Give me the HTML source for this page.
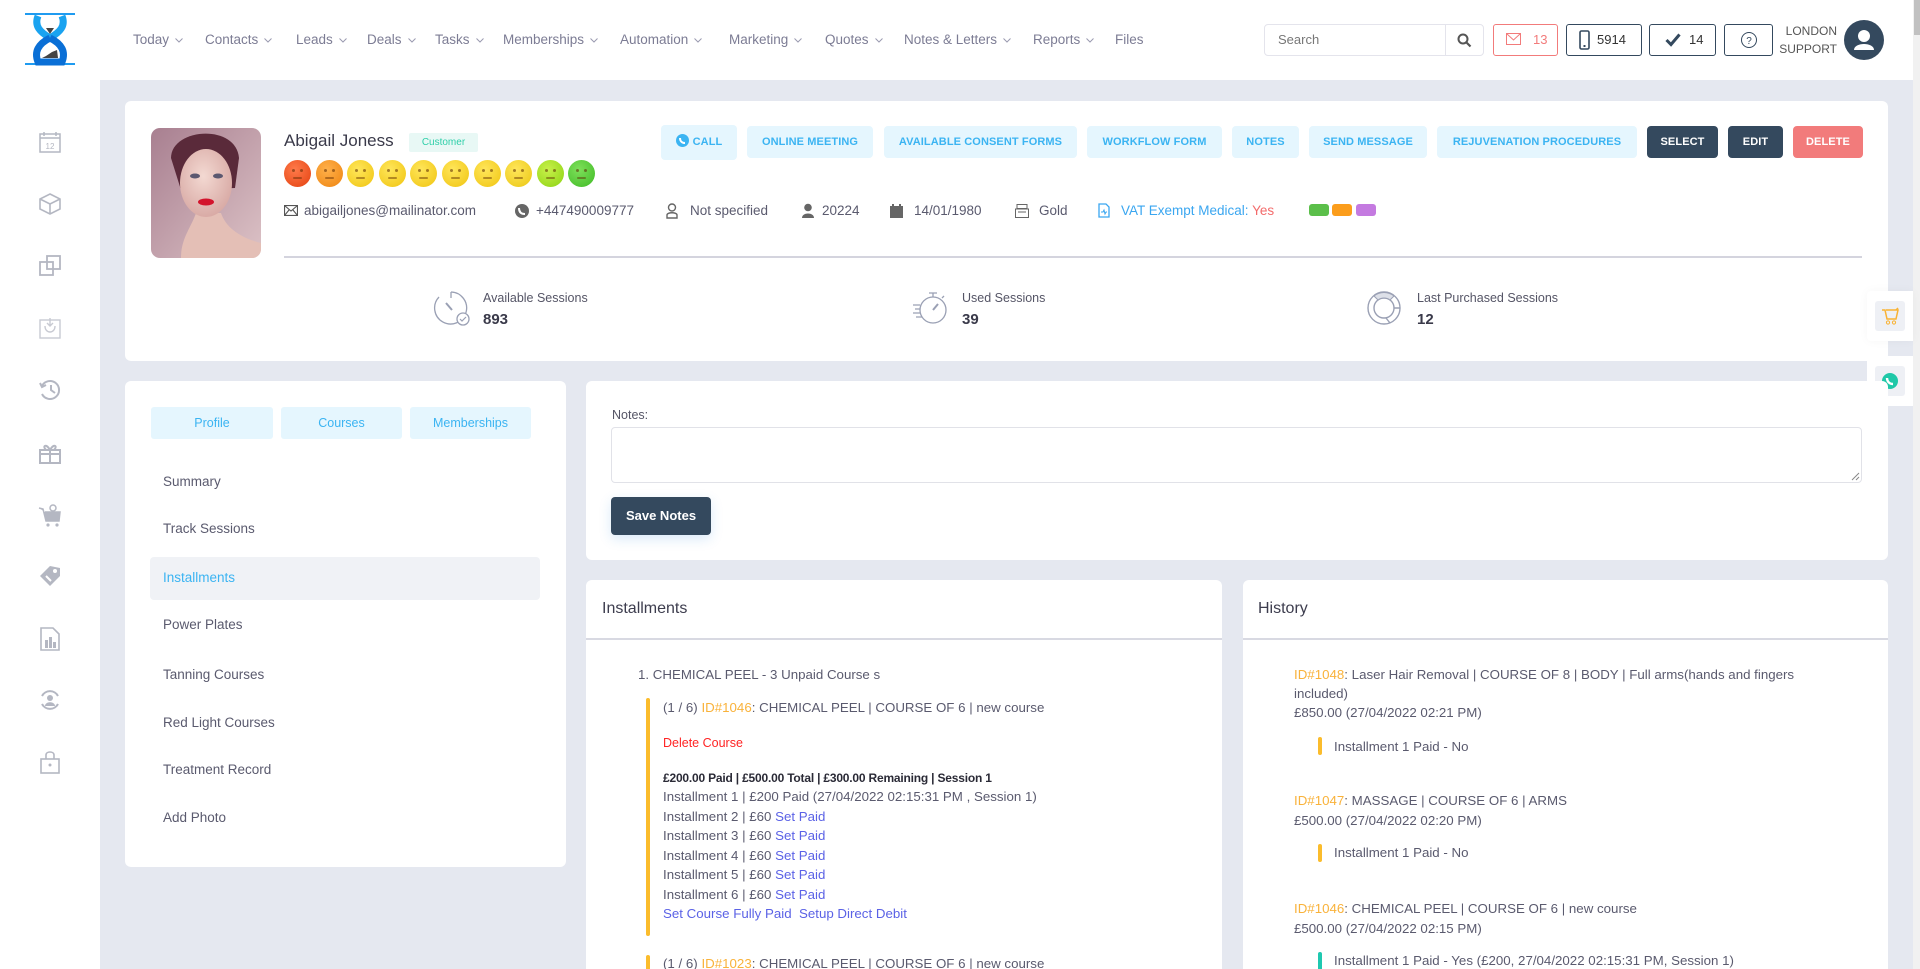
<!DOCTYPE html>
<html><head><meta charset="utf-8">
<style>
*{margin:0;padding:0;box-sizing:border-box}
html,body{width:1920px;height:969px;overflow:hidden;background:#e5e8f0;font-family:"Liberation Sans",sans-serif;color:#555566}
#root{position:relative;width:1920px;height:969px;overflow:hidden;background:#e5e8f0}
.a{position:absolute}
.t{position:absolute;white-space:nowrap;line-height:20px;height:20px}
.card{position:absolute;background:#fff;border-radius:6px}
.btn{position:absolute;top:126px;height:32px;line-height:32px;text-align:center;font-size:11px;font-weight:bold;border-radius:4px;background:#e5f6fe;color:#3bb4f2;letter-spacing:0.1px}
.dk{background:#34495e;color:#fff}
.nav{position:absolute;top:30px;font-size:13.5px;color:#7c7c94;white-space:nowrap;line-height:20px}
.nav svg{margin-left:6px;vertical-align:middle}
.tab{position:absolute;top:407px;height:32px;line-height:32px;text-align:center;font-size:12.5px;color:#3bb4f2;background:#e5f6fe;border-radius:3px}
.mi{position:absolute;left:163px;font-size:13.5px;color:#5a5a6e;line-height:20px;white-space:nowrap}
.ins{position:absolute;left:663px;font-size:13.3px;color:#5a5a6e;line-height:20px;white-space:nowrap}
.hs{position:absolute;left:1294px;font-size:13.3px;color:#5a5a6e;line-height:20px;white-space:nowrap}
.o{color:#f9b23a}
.lk{color:#5b62e6}
.emo{position:absolute;top:160px;width:27px;height:27px;border-radius:50%}
.emo:before,.emo:after{content:"";position:absolute;top:9px;width:3px;height:3px;border-radius:50%;background:rgba(90,40,0,.55)}
.emo:before{left:8px}.emo:after{right:8px}
.emo i{position:absolute;left:9px;top:17px;width:9px;height:2px;background:rgba(90,40,0,.45);border-radius:1px}
.ci{position:absolute;top:211px;font-size:13.5px;color:#5a5a6e;line-height:20px;margin-top:-10px;white-space:nowrap}
.sb{position:absolute;left:38px}
</style></head><body>
<div id="root">

<!-- header -->
<div class="a" style="left:0;top:0;width:1913px;height:80px;background:#fff"></div>
<!-- sidebar -->
<div class="a" style="left:0;top:80px;width:100px;height:889px;background:#fff"></div>
<!-- scrollbar -->
<div class="a" style="left:1913px;top:0;width:7px;height:969px;background:#f1f1f1"></div>
<div class="a" style="left:1914px;top:0;width:6px;height:35px;background:#c1c1c1"></div>

<!-- logo -->
<svg class="a" style="left:24px;top:12px" width="52" height="54" viewBox="0 0 52 54">
<rect x="1" y="1" width="50" height="2" fill="#1f9bf0"/>
<rect x="1" y="51" width="50" height="2" fill="#1f9bf0"/>
<path d="M14 4 C10 14,16 20,26 26 C36 20,42 14,38 4" fill="none" stroke="#1aa3f0" stroke-width="7"/>
<path d="M26 26 C14 32,10 40,14 50 L38 50 C42 40,38 32,26 26" fill="none" stroke="#0a6fd6" stroke-width="7"/>
<path d="M22 16 L30 16 L26 22 Z" fill="#444"/>
<path d="M18 46 L34 46 L33 38 L28 40 L22 44 Z" fill="#444"/>
</svg>

<!-- nav -->
<div class="nav" style="left:133px">Today<svg width="8" height="5"><path d="M0.5 0.5 L4 4 L7.5 0.5" fill="none" stroke="#9a9ab0"/></svg></div>
<div class="nav" style="left:205px">Contacts<svg width="8" height="5"><path d="M0.5 0.5 L4 4 L7.5 0.5" fill="none" stroke="#9a9ab0"/></svg></div>
<div class="nav" style="left:296px">Leads<svg width="8" height="5"><path d="M0.5 0.5 L4 4 L7.5 0.5" fill="none" stroke="#9a9ab0"/></svg></div>
<div class="nav" style="left:367px">Deals<svg width="8" height="5"><path d="M0.5 0.5 L4 4 L7.5 0.5" fill="none" stroke="#9a9ab0"/></svg></div>
<div class="nav" style="left:435px">Tasks<svg width="8" height="5"><path d="M0.5 0.5 L4 4 L7.5 0.5" fill="none" stroke="#9a9ab0"/></svg></div>
<div class="nav" style="left:503px">Memberships<svg width="8" height="5"><path d="M0.5 0.5 L4 4 L7.5 0.5" fill="none" stroke="#9a9ab0"/></svg></div>
<div class="nav" style="left:620px">Automation<svg width="8" height="5"><path d="M0.5 0.5 L4 4 L7.5 0.5" fill="none" stroke="#9a9ab0"/></svg></div>
<div class="nav" style="left:729px">Marketing<svg width="8" height="5"><path d="M0.5 0.5 L4 4 L7.5 0.5" fill="none" stroke="#9a9ab0"/></svg></div>
<div class="nav" style="left:825px">Quotes<svg width="8" height="5"><path d="M0.5 0.5 L4 4 L7.5 0.5" fill="none" stroke="#9a9ab0"/></svg></div>
<div class="nav" style="left:904px">Notes &amp; Letters<svg width="8" height="5"><path d="M0.5 0.5 L4 4 L7.5 0.5" fill="none" stroke="#9a9ab0"/></svg></div>
<div class="nav" style="left:1033px">Reports<svg width="8" height="5"><path d="M0.5 0.5 L4 4 L7.5 0.5" fill="none" stroke="#9a9ab0"/></svg></div>
<div class="nav" style="left:1115px">Files</div>

<!-- header right -->
<div class="a" style="left:1264px;top:24px;width:220px;height:32px;border:1px solid #e4e4ec;border-radius:4px"></div>
<div class="a" style="left:1445px;top:25px;width:1px;height:30px;background:#e4e4ec"></div>
<div class="t" style="left:1278px;top:30px;font-size:13px;color:#777">Search</div>
<svg class="a" style="left:1457px;top:33px" width="15" height="15"><circle cx="6" cy="6" r="4.5" fill="none" stroke="#555" stroke-width="2"/><path d="M9.5 9.5 L13.5 13.5" stroke="#555" stroke-width="2.2"/></svg>

<div class="a" style="left:1493px;top:24px;width:65px;height:32px;border:1px solid #f27b7b;border-radius:3px"></div>
<svg class="a" style="left:1506px;top:33px" width="15" height="12"><rect x="0.5" y="0.5" width="14" height="11" fill="none" stroke="#f27b7b"/><path d="M0.5 0.5 L7.5 7 L14.5 0.5" fill="none" stroke="#f27b7b"/></svg>
<div class="t" style="left:1533px;top:30px;font-size:13px;color:#f27b7b">13</div>

<div class="a" style="left:1566px;top:24px;width:76px;height:32px;border:1px solid #34495e;border-radius:3px"></div>
<svg class="a" style="left:1579px;top:30px" width="11" height="20"><rect x="1" y="1" width="9" height="18" rx="1.5" fill="none" stroke="#34495e" stroke-width="1.6"/><rect x="4.5" y="15" width="2" height="2" fill="#34495e"/></svg>
<div class="t" style="left:1597px;top:30px;font-size:13px;color:#333">5914</div>

<div class="a" style="left:1649px;top:24px;width:67px;height:32px;border:1px solid #34495e;border-radius:3px"></div>
<svg class="a" style="left:1665px;top:33px" width="16" height="14"><path d="M1.5 7 L6 11.5 L14.5 1.5" fill="none" stroke="#34495e" stroke-width="3"/></svg>
<div class="t" style="left:1689px;top:30px;font-size:13px;color:#333">14</div>

<div class="a" style="left:1724px;top:24px;width:49px;height:32px;border:1px solid #34495e;border-radius:3px"></div>
<svg class="a" style="left:1740px;top:31px" width="18" height="18"><circle cx="9" cy="9" r="7.5" fill="none" stroke="#34495e" stroke-width="1"/><text x="9" y="13" font-size="10" text-anchor="middle" fill="#34495e" font-family="Liberation Sans">?</text></svg>

<div class="t" style="left:1760px;width:77px;text-align:right;top:21px;font-size:12px;color:#555">LONDON</div>
<div class="t" style="left:1760px;width:77px;text-align:right;top:39px;font-size:12px;color:#555">SUPPORT</div>
<svg class="a" style="left:1844px;top:20px" width="40" height="40"><circle cx="20" cy="20" r="20" fill="#34495e"/><circle cx="20" cy="16" r="6" fill="#fff"/><path d="M10 30 C10 22,30 22,30 30 Z" fill="#fff"/></svg>

<!-- sidebar icons -->
<svg class="sb" style="top:131px" width="24" height="22"><rect x="2" y="3" width="20" height="18" fill="none" stroke="#b4b7c2" stroke-width="1.5"/><path d="M2 7 H22 M6 1 V5 M18 1 V5" stroke="#b4b7c2" stroke-width="1.5"/><text x="12" y="18" font-size="8" text-anchor="middle" fill="#b4b7c2" font-family="Liberation Sans">12</text></svg>
<svg class="sb" style="top:192px" width="24" height="24"><path d="M12 2 L22 7 L22 17 L12 22 L2 17 L2 7 Z M2 7 L12 12 L22 7 M12 12 V22" fill="none" stroke="#b4b7c2" stroke-width="1.6"/></svg>
<svg class="sb" style="top:254px" width="24" height="24"><rect x="2" y="8" width="13" height="13" fill="none" stroke="#b4b7c2" stroke-width="1.8"/><rect x="9" y="2" width="13" height="13" fill="none" stroke="#b4b7c2" stroke-width="1.8"/></svg>
<svg class="sb" style="top:316px" width="24" height="24"><rect x="2" y="4" width="20" height="18" fill="none" stroke="#c8cad2" stroke-width="1.4"/><path d="M7 10 C7 18,17 18,17 10 M12 2 V10 M9 7 L12 10 L15 7" fill="none" stroke="#c8cad2" stroke-width="1.4"/></svg>
<svg class="sb" style="top:378px" width="24" height="24"><path d="M4 8 A9 9 0 1 1 4 16" fill="none" stroke="#b4b7c2" stroke-width="2"/><path d="M2 5 L4 9 L8 7" fill="none" stroke="#b4b7c2" stroke-width="2"/><path d="M13 7 V12 L17 15" fill="none" stroke="#b4b7c2" stroke-width="2"/></svg>
<svg class="sb" style="top:441px" width="24" height="24"><rect x="2" y="9" width="20" height="13" fill="none" stroke="#b4b7c2" stroke-width="2"/><path d="M2 13 H22 M12 9 V22 M12 9 C8 2,4 5,8 9 M12 9 C16 2,20 5,16 9" fill="none" stroke="#b4b7c2" stroke-width="2"/></svg>
<svg class="sb" style="top:503px" width="24" height="24"><path d="M1 5 L5 6 L8 18 L21 18 L22 9 L7 9" fill="#b4b7c2" stroke="#b4b7c2" stroke-width="1.5"/><circle cx="10" cy="22" r="1.6" fill="#b4b7c2"/><circle cx="19" cy="22" r="1.6" fill="#b4b7c2"/><circle cx="15" cy="5" r="3" fill="none" stroke="#b4b7c2" stroke-width="1.5"/></svg>
<svg class="sb" style="top:564px" width="24" height="24"><path d="M2 12 L12 2 L22 4 L22 12 L12 22 Z" fill="#b4b7c2"/><circle cx="17" cy="7" r="2" fill="#fff"/><path d="M8 12 L13 17" stroke="#fff" stroke-width="2"/></svg>
<svg class="sb" style="top:626px" width="24" height="26"><path d="M3 2 H15 L21 8 V24 H3 Z" fill="none" stroke="#b4b7c2" stroke-width="1.6"/><rect x="7" y="14" width="3" height="8" fill="#b4b7c2"/><rect x="11" y="11" width="3" height="11" fill="#b4b7c2"/><rect x="15" y="16" width="3" height="6" fill="#b4b7c2"/></svg>
<svg class="sb" style="top:688px" width="24" height="24"><path d="M4 8 A9 9 0 0 1 20 8 M20 16 A9 9 0 0 1 4 16" fill="none" stroke="#b4b7c2" stroke-width="2"/><circle cx="12" cy="10" r="3" fill="#b4b7c2"/><path d="M7 18 C7 13,17 13,17 18 Z" fill="#b4b7c2"/></svg>
<svg class="sb" style="top:750px" width="24" height="24"><rect x="3" y="9" width="18" height="14" fill="none" stroke="#b4b7c2" stroke-width="1.6"/><path d="M8 9 V5 C8 1,16 1,16 5 V9" fill="none" stroke="#b4b7c2" stroke-width="1.6"/><circle cx="12" cy="15" r="1.5" fill="#b4b7c2"/></svg>

<!-- top card -->
<div class="card" style="left:125px;top:101px;width:1763px;height:260px"></div>
<svg class="a" style="left:151px;top:128px;border-radius:9px" width="110" height="130" viewBox="0 0 110 130">
<defs><linearGradient id="bg" x1="0" y1="0" x2="1" y2="1"><stop offset="0" stop-color="#a87f90"/><stop offset="1" stop-color="#dcc2c6"/></linearGradient>
<radialGradient id="sk" cx="0.45" cy="0.4" r="0.6"><stop offset="0" stop-color="#f3d9d2"/><stop offset="1" stop-color="#d9aba6"/></radialGradient></defs>
<rect width="110" height="130" fill="url(#bg)"/>
<path d="M20 30 C20 0,85 -5,88 30 L84 60 L30 62 Z" fill="#5a2a3a"/>
<path d="M30 130 C30 110,40 100,45 85 L70 85 C75 100,90 110,110 115 L110 130 Z" fill="#e4bfb6"/>
<ellipse cx="55" cy="55" rx="26" ry="34" fill="url(#sk)"/>
<ellipse cx="44" cy="48" rx="5" ry="2.5" fill="#5b5870"/>
<ellipse cx="67" cy="48" rx="5" ry="2.5" fill="#5b5870"/>
<ellipse cx="55" cy="74" rx="8" ry="3.5" fill="#d3142c"/>
</svg>

<div class="t" style="left:284px;top:131px;font-size:17px;color:#3a3a4a">Abigail Joness</div>
<div class="a" style="left:409px;top:133px;width:69px;height:19px;line-height:19px;background:#e8f8f5;color:#2fcfa9;font-size:10px;text-align:center;border-radius:2px">Customer</div>

<div class="emo" style="left:284px;background:radial-gradient(circle at 40% 35%,#ff7a4a,#e3400f)"><i></i></div>
<div class="emo" style="left:316px;background:radial-gradient(circle at 40% 35%,#ffb04a,#ee8410)"><i></i></div>
<div class="emo" style="left:347px;background:radial-gradient(circle at 40% 35%,#ffe65a,#f0c410)"><i></i></div>
<div class="emo" style="left:379px;background:radial-gradient(circle at 40% 35%,#ffe65a,#f0c410)"><i></i></div>
<div class="emo" style="left:410px;background:radial-gradient(circle at 40% 35%,#ffe65a,#f0c410)"><i></i></div>
<div class="emo" style="left:442px;background:radial-gradient(circle at 40% 35%,#ffe65a,#f0c410)"><i></i></div>
<div class="emo" style="left:474px;background:radial-gradient(circle at 40% 35%,#ffe65a,#f0c410)"><i></i></div>
<div class="emo" style="left:505px;background:radial-gradient(circle at 40% 35%,#ffe65a,#eac612)"><i></i></div>
<div class="emo" style="left:537px;background:radial-gradient(circle at 40% 35%,#c8f04a,#8cd312)"><i></i></div>
<div class="emo" style="left:568px;background:radial-gradient(circle at 40% 35%,#7ee05a,#3fba25)"><i></i></div>

<!-- contact row -->
<svg class="a" style="left:284px;top:205px" width="14" height="11"><rect x="0.5" y="0.5" width="13" height="10" fill="none" stroke="#555" stroke-width="1.2"/><path d="M0.5 0.5 L7 6 L13.5 0.5 M0.5 10.5 L5 5 M13.5 10.5 L9 5" fill="none" stroke="#555" stroke-width="1.1"/></svg>
<div class="ci" style="left:304px">abigailjones@mailinator.com</div>
<svg class="a" style="left:515px;top:204px" width="14" height="14"><circle cx="7" cy="7" r="7" fill="#666"/><path d="M4 4 C4 8,6 10,10 10" stroke="#fff" stroke-width="2" fill="none"/></svg>
<div class="ci" style="left:536px">+447490009777</div>
<svg class="a" style="left:666px;top:203px" width="12" height="16"><circle cx="6" cy="4.5" r="3.5" fill="none" stroke="#666" stroke-width="1.4"/><path d="M1 15 V12 C1 9,11 9,11 12 V15 Z" fill="none" stroke="#666" stroke-width="1.4"/></svg>
<div class="ci" style="left:690px">Not specified</div>
<svg class="a" style="left:802px;top:203px" width="12" height="16"><circle cx="6" cy="4.5" r="3.8" fill="#666"/><path d="M0 15 C0 9,12 9,12 15 Z" fill="#666"/></svg>
<div class="ci" style="left:822px">20224</div>
<svg class="a" style="left:890px;top:204px" width="13" height="14"><rect x="0" y="2" width="13" height="12" fill="#666"/><rect x="2" y="0" width="2" height="3" fill="#666"/><rect x="9" y="0" width="2" height="3" fill="#666"/></svg>
<div class="ci" style="left:914px">14/01/1980</div>
<svg class="a" style="left:1015px;top:204px" width="14" height="14"><rect x="2" y="0.5" width="10" height="4" fill="none" stroke="#666"/><rect x="0.5" y="5" width="13" height="8.5" fill="none" stroke="#666"/><path d="M3 8 H11" stroke="#666"/></svg>
<div class="ci" style="left:1039px">Gold</div>
<svg class="a" style="left:1098px;top:203px" width="12" height="15"><path d="M1 1 H8 L11 4 V14 H1 Z" fill="none" stroke="#3aa6f0" stroke-width="1.3"/><path d="M3 9 L5 9 L6 7 L7 11 L8 9 L9 9" fill="none" stroke="#3aa6f0"/></svg>
<div class="ci" style="left:1121px;color:#3aa6f0">VAT Exempt Medical: <span style="color:#f36b6b">Yes</span></div>
<div class="a" style="left:1309px;top:204px;width:20px;height:12px;background:#5bbf4a;border-radius:3px"></div>
<div class="a" style="left:1332px;top:204px;width:20px;height:12px;background:#fb9d1c;border-radius:3px"></div>
<div class="a" style="left:1356px;top:204px;width:20px;height:12px;background:#c47ae0;border-radius:3px"></div>

<div class="a" style="left:284px;top:256px;width:1578px;height:2px;background:#d4d4de"></div>

<!-- buttons -->
<div class="btn" style="left:661px;width:76px;top:125px;height:35px;line-height:35px"><svg width="13" height="13" style="vertical-align:-2px;margin-right:4px"><circle cx="6.5" cy="6.5" r="6.5" fill="#3bb4f2"/><path d="M4 4 C4 7,6 9,9 9" stroke="#fff" stroke-width="2" fill="none"/></svg>CALL</div>
<div class="btn" style="left:747px;width:126px">ONLINE MEETING</div>
<div class="btn" style="left:884px;width:193px">AVAILABLE CONSENT FORMS</div>
<div class="btn" style="left:1087px;width:135px">WORKFLOW FORM</div>
<div class="btn" style="left:1232px;width:67px">NOTES</div>
<div class="btn" style="left:1309px;width:118px">SEND MESSAGE</div>
<div class="btn" style="left:1437px;width:200px">REJUVENATION PROCEDURES</div>
<div class="btn dk" style="left:1647px;width:71px">SELECT</div>
<div class="btn dk" style="left:1728px;width:55px">EDIT</div>
<div class="btn" style="left:1793px;width:70px;background:#f27b7b;color:#fff">DELETE</div>

<!-- stats -->
<svg class="a" style="left:433px;top:289px" width="38" height="38"><path d="M18 3 A16 16 0 1 1 6 8" fill="none" stroke="#9aa0b4" stroke-width="1.3"/><path d="M18 3 V9" stroke="#9aa0b4" stroke-width="1.3"/><path d="M13 14 L19 21" stroke="#9aa0b4" stroke-width="2"/><circle cx="30" cy="30" r="6" fill="#fff" stroke="#9aa0b4" stroke-width="1.3"/><path d="M27 30 L29 32 L33 28" fill="none" stroke="#9aa0b4" stroke-width="1.2"/></svg>
<div class="t" style="left:483px;top:288px;font-size:12.5px;color:#555566">Available Sessions</div>
<div class="t" style="left:483px;top:310px;font-size:15px;font-weight:bold;color:#3a3a4a">893</div>

<svg class="a" style="left:912px;top:290px" width="36" height="36"><circle cx="21" cy="20" r="13" fill="none" stroke="#9aa0b4" stroke-width="1.3"/><path d="M17 3 H25 M21 3 V7 M30 8 L32 6" stroke="#9aa0b4" stroke-width="1.3"/><path d="M21 20 L26 14" stroke="#9aa0b4" stroke-width="2"/><path d="M1 15 H8 M3 19 H8 M1 23 H8 M4 27 H10" stroke="#9aa0b4" stroke-width="1.2"/></svg>
<div class="t" style="left:962px;top:288px;font-size:12.5px;color:#555566">Used Sessions</div>
<div class="t" style="left:962px;top:310px;font-size:15px;font-weight:bold;color:#3a3a4a">39</div>

<svg class="a" style="left:1366px;top:290px" width="36" height="36"><circle cx="18" cy="18" r="16" fill="none" stroke="#9aa0b4" stroke-width="1.4"/><circle cx="18" cy="18" r="10" fill="none" stroke="#9aa0b4" stroke-width="1.4"/><path d="M8 6 A16 16 0 0 1 28 6 L24 10 A10 10 0 0 0 12 10 Z" fill="#dde0e8" stroke="#9aa0b4"/><path d="M28 18 H34 M20 28 L24 33" stroke="#9aa0b4" stroke-width="1.4"/></svg>
<div class="t" style="left:1417px;top:288px;font-size:12.5px;color:#555566">Last Purchased Sessions</div>
<div class="t" style="left:1417px;top:310px;font-size:15px;font-weight:bold;color:#3a3a4a">12</div>

<!-- floating widgets -->
<div class="a" style="left:1867px;top:291px;width:46px;height:50px;background:#fff;border-radius:4px 0 0 4px;box-shadow:0 0 10px rgba(0,0,0,.04)"></div>
<div class="a" style="left:1875px;top:301px;width:30px;height:30px;background:#eef0f5;border-radius:3px"></div>
<svg class="a" style="left:1881px;top:307px" width="18" height="18"><path d="M1 3 H4 L6 12 H15 L17 3 H5" fill="none" stroke="#f9b233" stroke-width="1.5"/><path d="M15 3 L17 1" stroke="#f9b233" stroke-width="1.5"/><circle cx="7" cy="15.5" r="1.6" fill="none" stroke="#f9b233"/><circle cx="13" cy="15.5" r="1.6" fill="none" stroke="#f9b233"/></svg>
<div class="a" style="left:1867px;top:356px;width:46px;height:50px;background:#fff;border-radius:4px 0 0 4px"></div>
<div class="a" style="left:1875px;top:366px;width:30px;height:30px;background:#eef0f5;border-radius:3px"></div>
<svg class="a" style="left:1882px;top:373px" width="16" height="16"><circle cx="8" cy="8" r="8" fill="#1fc8a8"/><path d="M5 5 C5 8,7 11,11 11" stroke="#fff" stroke-width="2.4" fill="none"/></svg>

<!-- left panel -->
<div class="card" style="left:125px;top:381px;width:441px;height:486px"></div>
<div class="tab" style="left:151px;width:122px">Profile</div>
<div class="tab" style="left:281px;width:121px">Courses</div>
<div class="tab" style="left:410px;width:121px">Memberships</div>
<div class="a" style="left:150px;top:557px;width:390px;height:43px;background:#f0f2f6;border-radius:4px"></div>
<div class="mi" style="top:472px">Summary</div>
<div class="mi" style="top:519px">Track Sessions</div>
<div class="mi" style="top:568px;color:#3bb4f2">Installments</div>
<div class="mi" style="top:615px">Power Plates</div>
<div class="mi" style="top:665px">Tanning Courses</div>
<div class="mi" style="top:713px">Red Light Courses</div>
<div class="mi" style="top:760px">Treatment Record</div>
<div class="mi" style="top:808px">Add Photo</div>

<!-- notes panel -->
<div class="card" style="left:586px;top:381px;width:1302px;height:179px"></div>
<div class="t" style="left:612px;top:405px;font-size:12.5px;color:#555566">Notes:</div>
<div class="a" style="left:611px;top:427px;width:1251px;height:56px;border:1px solid #e1e2e8;border-radius:4px"></div>
<svg class="a" style="left:1851px;top:472px" width="9" height="9"><path d="M1 8 L8 1 M5 8 L8 5" stroke="#888" stroke-width="1"/></svg>
<div class="a" style="left:611px;top:497px;width:100px;height:38px;line-height:38px;background:#34495e;color:#fff;font-size:13px;font-weight:bold;text-align:center;border-radius:4px;box-shadow:0 4px 12px rgba(52,140,220,.18)">Save Notes</div>

<!-- installments panel -->
<div class="card" style="left:586px;top:580px;width:636px;height:389px;border-radius:6px 6px 0 0"></div>
<div class="t" style="left:602px;top:599px;font-size:16px;color:#3d3d4e">Installments</div>
<div class="a" style="left:586px;top:638px;width:636px;height:2px;background:#d8d9e2"></div>
<div class="t" style="left:638px;top:665px;font-size:13.3px;color:#5a5a6e">1. CHEMICAL PEEL - 3 Unpaid Course s</div>
<div class="a" style="left:646px;top:698px;width:4px;height:238px;background:#fbbc2c;border-radius:2px"></div>
<div class="ins" style="top:698px">(1 / 6) <span class="o">ID#1046</span>: CHEMICAL PEEL | COURSE OF 6 | new course</div>
<div class="ins" style="top:733px;color:#ff2424;font-size:12.5px">Delete Course</div>
<div class="ins" style="top:768px;color:#2a2a36;font-size:12px;font-weight:bold;letter-spacing:-0.2px">£200.00 Paid | £500.00 Total | £300.00 Remaining | Session 1</div>
<div class="ins" style="top:787px">Installment 1 | £200 Paid (27/04/2022 02:15:31 PM , Session 1)</div>
<div class="ins" style="top:807px">Installment 2 | £60 <span class="lk">Set Paid</span></div>
<div class="ins" style="top:826px">Installment 3 | £60 <span class="lk">Set Paid</span></div>
<div class="ins" style="top:846px">Installment 4 | £60 <span class="lk">Set Paid</span></div>
<div class="ins" style="top:865px">Installment 5 | £60 <span class="lk">Set Paid</span></div>
<div class="ins" style="top:885px">Installment 6 | £60 <span class="lk">Set Paid</span></div>
<div class="ins lk" style="top:904px">Set Course Fully Paid&nbsp;&nbsp;Setup Direct Debit</div>
<div class="a" style="left:646px;top:955px;width:4px;height:14px;background:#fbbc2c;border-radius:2px 2px 0 0"></div>
<div class="ins" style="top:954px">(1 / 6) <span class="o">ID#1023</span>: CHEMICAL PEEL | COURSE OF 6 | new course</div>

<!-- history panel -->
<div class="card" style="left:1243px;top:580px;width:645px;height:389px;border-radius:6px 6px 0 0"></div>
<div class="t" style="left:1258px;top:599px;font-size:16px;color:#3d3d4e">History</div>
<div class="a" style="left:1243px;top:638px;width:645px;height:2px;background:#d8d9e2"></div>
<div class="hs" style="top:665px"><span class="o">ID#1048</span>: Laser Hair Removal | COURSE OF 8 | BODY | Full arms(hands and fingers</div>
<div class="hs" style="top:684px">included)</div>
<div class="hs" style="top:703px">£850.00 (27/04/2022 02:21 PM)</div>
<div class="a" style="left:1318px;top:737px;width:4px;height:18px;background:#fbbc2c;border-radius:2px"></div>
<div class="hs" style="left:1334px;top:737px">Installment 1 Paid - No</div>
<div class="hs" style="top:791px"><span class="o">ID#1047</span>: MASSAGE | COURSE OF 6 | ARMS</div>
<div class="hs" style="top:811px">£500.00 (27/04/2022 02:20 PM)</div>
<div class="a" style="left:1318px;top:844px;width:4px;height:18px;background:#fbbc2c;border-radius:2px"></div>
<div class="hs" style="left:1334px;top:843px">Installment 1 Paid - No</div>
<div class="hs" style="top:899px"><span class="o">ID#1046</span>: CHEMICAL PEEL | COURSE OF 6 | new course</div>
<div class="hs" style="top:919px">£500.00 (27/04/2022 02:15 PM)</div>
<div class="a" style="left:1318px;top:952px;width:4px;height:17px;background:#1fc8b0;border-radius:2px 2px 0 0"></div>
<div class="hs" style="left:1334px;top:951px">Installment 1 Paid - Yes (£200, 27/04/2022 02:15:31 PM, Session 1)</div>

</div>
</body></html>
